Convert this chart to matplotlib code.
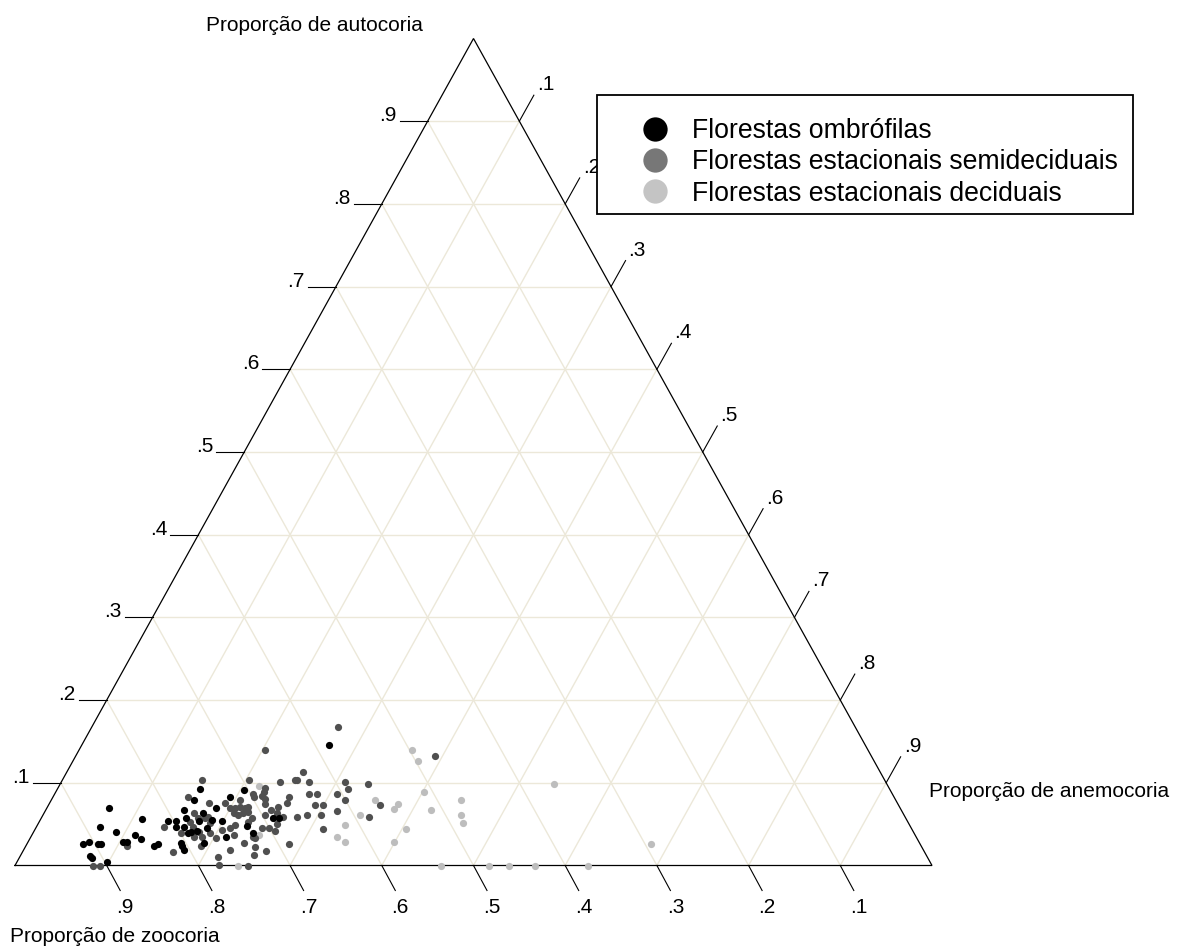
import matplotlib
matplotlib.use("Agg")
import matplotlib.pyplot as plt
from matplotlib.lines import Line2D
from matplotlib.patches import Rectangle
import numpy as np

plt.rcParams['font.family'] = ['Liberation Sans', 'DejaVu Sans']

# ---------------- data (proportions) ----------------
groups = ["Florestas ombrófilas",
          "Florestas estacionais semideciduais",
          "Florestas estacionais deciduais"]

omb_auto = [0.069, 0.056, 0.046, 0.041, 0.037, 0.032, 0.029, 0.026, 0.026, 0.026,
            0.029, 0.028, 0.024, 0.026, 0.012, 0.009, 0.004, 0.054, 0.054, 0.047,
            0.047, 0.027, 0.023, 0.019, 0.093, 0.079, 0.067, 0.057, 0.054, 0.039,
            0.040, 0.042, 0.064, 0.045, 0.055, 0.069, 0.027, 0.054, 0.035, 0.083,
            0.091, 0.039, 0.057, 0.057, 0.048, 0.146]
omb_anemo = [0.068, 0.111, 0.070, 0.090, 0.112, 0.121, 0.066, 0.061, 0.078, 0.081,
             0.103, 0.108, 0.140, 0.143, 0.076, 0.079, 0.098, 0.140, 0.149, 0.152,
             0.161, 0.167, 0.171, 0.175, 0.155, 0.156, 0.151, 0.158, 0.174, 0.169,
             0.172, 0.177, 0.173, 0.187, 0.187, 0.185, 0.193, 0.199, 0.213, 0.193,
             0.204, 0.240, 0.253, 0.259, 0.229, 0.269]

semi_auto = [0.167, 0.133, 0.101, 0.093, 0.098, 0.079, 0.073, 0.059, 0.086, 0.066,
             0.140, 0.113, 0.103, 0.103, 0.101, 0.101, 0.103, 0.103, 0.083, 0.076,
             0.079, 0.074, 0.083, 0.076, 0.071, 0.086, 0.086, 0.073, 0.073, 0.044,
             0.061, 0.059, 0.061, 0.059, 0.050, 0.042, 0.035, 0.022, 0.017, 0.013,
             0.027, 0.019, 0.010, 0.000, 0.026, 0.037, 0.039, 0.024, 0.046, 0.024,
             0.016, 0.000, 0.000, 0.064, 0.057, 0.057, 0.059, 0.051, 0.053, 0.047,
             0.039, 0.035, 0.035, 0.033, 0.001, 0.075, 0.069, 0.069, 0.071, 0.069,
             0.071, 0.063, 0.061, 0.063, 0.065, 0.057, 0.053, 0.049, 0.045, 0.043,
             0.033, 0.045, 0.045, 0.061, 0.067, 0.063, 0.094, 0.089, 0.086, 0.083,
             0.084, 0.081, 0.041]
semi_anemo = [0.269, 0.392, 0.309, 0.317, 0.336, 0.320, 0.362, 0.356, 0.308, 0.318,
              0.203, 0.258, 0.254, 0.256, 0.238, 0.270, 0.204, 0.152, 0.147, 0.174,
              0.206, 0.236, 0.257, 0.259, 0.251, 0.278, 0.286, 0.291, 0.299, 0.314,
              0.288, 0.278, 0.303, 0.263, 0.261, 0.262, 0.242, 0.251, 0.265, 0.254,
              0.236, 0.225, 0.216, 0.254, 0.286, 0.220, 0.193, 0.191, 0.139, 0.110,
              0.164, 0.085, 0.093, 0.163, 0.171, 0.179, 0.181, 0.187, 0.164, 0.171,
              0.162, 0.178, 0.186, 0.203, 0.222, 0.191, 0.200, 0.205, 0.210, 0.216,
              0.219, 0.207, 0.213, 0.217, 0.222, 0.230, 0.228, 0.215, 0.212, 0.204,
              0.245, 0.254, 0.247, 0.242, 0.246, 0.254, 0.226, 0.227, 0.216, 0.219,
              0.227, 0.232, 0.180]

deci_auto = [0.140, 0.126, 0.098, 0.089, 0.079, 0.074, 0.068, 0.079, 0.067, 0.061,
             0.051, 0.061, 0.049, 0.044, 0.029, 0.034, 0.029, 0.026, 0.000, 0.000,
             0.000, 0.000, 0.000, 0.096, 0.037, 0.000]
deci_anemo = [0.363, 0.376, 0.539, 0.401, 0.353, 0.381, 0.379, 0.447, 0.420, 0.456,
              0.463, 0.346, 0.335, 0.404, 0.345, 0.334, 0.399, 0.681, 0.465, 0.517,
              0.539, 0.567, 0.625, 0.218, 0.248, 0.243]

ticks = [0.1, 0.2, 0.3, 0.4, 0.5, 0.6, 0.7, 0.8, 0.9]
tick_labels = ['.1', '.2', '.3', '.4', '.5', '.6', '.7', '.8', '.9']

point_colors = ['#000000', '#505050', '#bdbdbd']
legend_colors = ['#000000', '#777777', '#c4c4c4']

# ---------------- layout ----------------
W, H = 1177, 947
fig = plt.figure(figsize=(W / 100, H / 100), dpi=100)
ax = fig.add_axes([0, 0, 1, 1])
ax.set_axis_off()

# triangle placement in pixels
x0, base_w = 15.0, 917.0
y_base, tri_h = 865.5, 827.0
ax.set_xlim(-x0 / base_w, (W - x0) / base_w)
ax.set_ylim((y_base - H) / tri_h, y_base / tri_h)
px = 1.0 / base_w   # one pixel in x data units
py = 1.0 / tri_h    # one pixel in y data units


def cart(anemo, auto):
    anemo = np.asarray(anemo, float)
    auto = np.asarray(auto, float)
    return anemo + 0.5 * auto, auto


grid_c = '#ece8d9'
for t in ticks:
    # constant autocoria
    ax.plot([t / 2, 1 - t / 2], [t, t], color=grid_c, lw=1.0, zorder=1)
    # constant anemocoria
    ax.plot([t, t + (1 - t) / 2], [0, 1 - t], color=grid_c, lw=1.0, zorder=1)
    # constant zoocoria
    ax.plot([1 - t, (1 - t) / 2], [0, 1 - t], color=grid_c, lw=1.0, zorder=1)

# triangle outline
ax.plot([0, 1, 0.5, 0], [0, 0, 1, 0], color='black', lw=0.9, zorder=3,
        solid_joinstyle='miter')

fs = 15
# left ticks: autocoria
for t, lab in zip(ticks, tick_labels):
    xe, ye = t / 2, t
    xs = xe - 28 * px
    ax.plot([xs, xe], [ye, ye], color='black', lw=0.8, zorder=3)
    ax.text(xs - 3 * px, ye, lab, ha='right', va='baseline', fontsize=fs)

# right ticks: anemocoria
for t, lab in zip(ticks, tick_labels):
    xe, ye = t + (1 - t) / 2, 1 - t
    xt, yt = xe + 14.5 * px, ye + 26 * py
    ax.plot([xe, xt], [ye, yt], color='black', lw=0.8, zorder=3)
    ax.text(xt + 3 * px, yt + 1 * py, lab, ha='left', va='bottom', fontsize=fs)

# bottom ticks: zoocoria (label = 1 - anemocoria position)
for t, lab in zip(ticks, tick_labels):
    xe = 1 - t
    xt, yt = xe + 13.5 * px, -25 * py
    ax.plot([xe, xt], [0, yt], color='black', lw=0.8, zorder=3)
    ax.text(xt + 5 * px, yt - 7 * py, lab, ha='center', va='top', fontsize=fs)

# points
data = [(deci_anemo, deci_auto, 2), (semi_anemo, semi_auto, 1), (omb_anemo, omb_auto, 0)]
for an, au, k in data:
    assert len(an) == len(au)
    xx, yy = cart(an, au)
    ax.scatter(xx, yy, s=27, color=point_colors[k], linewidths=0, zorder=4)

# axis titles
fig.text(314 / W, 1 - 31 / H, 'Proporção de autocoria', ha='center', va='baseline', fontsize=fs)
fig.text(10 / W, 1 - 942 / H, 'Proporção de zoocoria', ha='left', va='baseline', fontsize=fs)
fig.text(929 / W, 1 - 797 / H, 'Proporção de anemocoria', ha='left', va='baseline', fontsize=fs)

# legend box
box = Rectangle((597 / W, 1 - 214 / H), (1133 - 597) / W, (214 - 95) / H,
                transform=fig.transFigure, facecolor='white', edgecolor='black',
                lw=1.3, zorder=8)
ax.add_patch(box)

handles = [Line2D([], [], marker='o', ls='', markersize=17.5, color=c, markeredgewidth=0)
           for c in legend_colors]
leg = ax.legend(handles, groups, loc='upper left',
                bbox_to_anchor=(618.5 / W, 1 - 118 / H), bbox_transform=fig.transFigure,
                fontsize=19.2, frameon=False,
                borderpad=0, borderaxespad=0, handlelength=2.75, handletextpad=0.0,
                labelspacing=0.2)
leg.set_zorder(9)

fig.savefig('out.png', dpi=100)
